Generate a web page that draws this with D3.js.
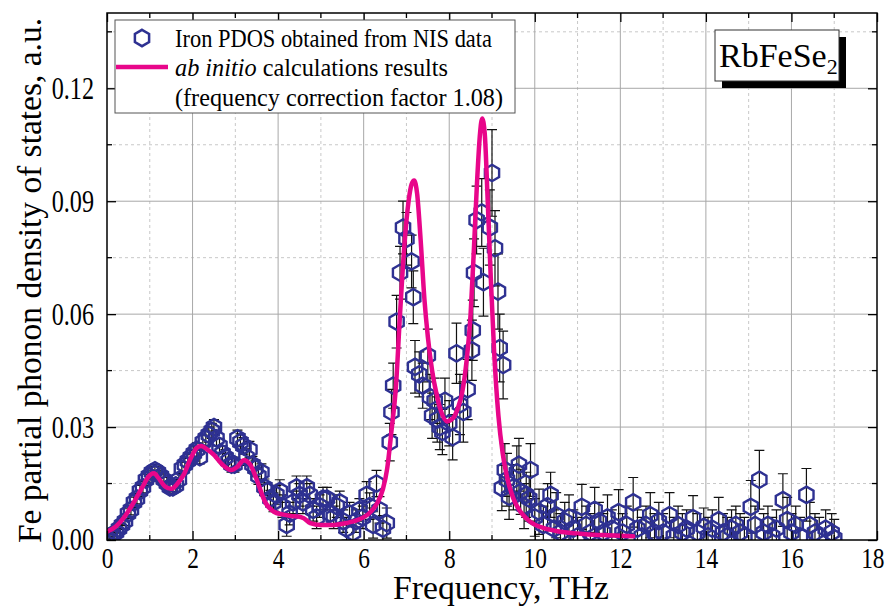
<!DOCTYPE html>
<html>
<head>
<meta charset="utf-8">
<script src="https://cdn.jsdelivr.net/npm/d3@7"></script>
<style>
  body { margin: 0; background: #fff; }
  svg text { font-family: "Liberation Serif", "DejaVu Serif", serif; fill: #000; }
</style>
</head>
<body>
<svg id="chart" width="887" height="608"></svg>
<script>
// NIS measured iron PDOS (frequency in THz, value, error)
const nisFreq = [0.00, 0.07, 0.14, 0.21, 0.28, 0.35, 0.42, 0.49, 0.56, 0.63, 0.70, 0.77, 0.84, 0.91, 0.98,
  1.05, 1.12, 1.19, 1.26, 1.33, 1.40, 1.47, 1.54, 1.61, 1.68, 1.75, 1.82, 1.89, 1.96, 2.03, 2.10, 2.17,
  2.24, 2.31, 2.38, 2.45, 2.50, 2.56, 2.63, 2.70, 2.77, 2.84, 2.91, 2.98, 3.05, 3.12, 3.19, 3.26, 3.33,
  3.40, 3.47, 3.54, 3.61, 3.68, 3.75, 3.82, 3.89, 3.96, 4.04, 4.10, 4.20, 4.27, 4.35, 4.43, 4.50, 4.58,
  4.67, 4.74, 4.82, 4.90, 4.97, 5.05, 5.14, 5.22, 5.30, 5.37, 5.44, 5.52, 5.60, 5.67, 5.75, 5.82, 5.90,
  5.98, 6.07, 6.14, 6.22, 6.30, 6.37, 6.45, 6.54, 6.61, 6.65, 6.69, 6.77, 6.85, 6.92, 7.00, 7.12, 7.16,
  7.20, 7.30, 7.38, 7.50, 7.55, 7.60, 7.66, 7.72, 7.78, 7.84, 7.90, 8.00, 8.08, 8.17, 8.25, 8.33, 8.43,
  8.53, 8.55, 8.58, 8.64, 8.76, 8.80, 8.95, 9.00, 9.07, 9.14, 9.18, 9.23, 9.26, 9.30, 9.35, 9.40, 9.50,
  9.58, 9.63, 9.67, 9.75, 9.80, 9.87, 9.90, 10.00, 10.10, 10.20, 10.30, 10.37, 10.45, 10.50, 10.60,
  10.70, 10.80, 10.90, 11.00, 11.10, 11.20, 11.30, 11.40, 11.50, 11.60, 11.70, 11.80, 11.96, 12.05,
  12.15, 12.30, 12.40, 12.50, 12.60, 12.70, 12.80, 12.90, 13.00, 13.15, 13.25, 13.35, 13.45, 13.55,
  13.70, 13.80, 13.95, 14.05, 14.15, 14.30, 14.40, 14.50, 14.60, 14.70, 14.80, 14.90, 15.05, 15.15,
  15.25, 15.35, 15.45, 15.55, 15.65, 15.80, 15.90, 16.00, 16.10, 16.20, 16.35, 16.43, 16.55, 16.65,
  16.80, 16.94, 17.00];
const nisPdos = [0.000, 0.001, 0.0015, 0.002, 0.003, 0.004, 0.005, 0.007, 0.008, 0.010, 0.011, 0.013, 0.014, 0.016, 0.017,
  0.018, 0.0185, 0.018, 0.017, 0.016, 0.015, 0.014, 0.014, 0.0145, 0.016, 0.019, 0.020, 0.021, 0.022, 0.023, 0.024, 0.022,
  0.026, 0.027, 0.028, 0.029, 0.030, 0.027, 0.025, 0.023, 0.022, 0.021, 0.020, 0.020, 0.027, 0.026, 0.025, 0.022, 0.024,
  0.020, 0.019, 0.017, 0.018, 0.014, 0.013, 0.011, 0.010, 0.012, 0.013, 0.009, 0.004, 0.007, 0.010, 0.014, 0.012, 0.010,
  0.014, 0.012, 0.008, 0.006, 0.009, 0.011, 0.011, 0.007, 0.006, 0.009, 0.010, 0.005, 0.003, 0.007, 0.002, 0.005, 0.008,
  0.006, 0.012, 0.009, 0.004, 0.015, 0.008, 0.003, 0.0045, 0.026, 0.034, 0.041, 0.058, 0.071, 0.083, 0.080, 0.074, 0.0645,
  0.046, 0.044, 0.041, 0.049, 0.038, 0.033, 0.037, 0.032, 0.030, 0.0287, 0.037, 0.031, 0.0273, 0.0496, 0.036, 0.034, 0.040,
  0.0504, 0.0557, 0.071, 0.085, 0.087, 0.0685, 0.083, 0.0975, 0.0775, 0.066, 0.051, 0.0138, 0.0465, 0.0186, 0.016, 0.0115, 0.014,
  0.018, 0.020, 0.0128, 0.009, 0.012, 0.011, 0.0186, 0.006, 0.0075, 0.004, 0.009, 0.012, 0.003, 0.0066, 0.002,
  0.005, 0.006, 0.003, 0.001, 0.0088, 0.004, 0.002, 0.008, 0.005, 0.002, 0.006, 0.003, 0.0074, 0.002,
  0.004, 0.010, 0.003, 0.001, 0.004, 0.0066, 0.002, 0.005, 0.002, 0.0066, 0.001, 0.004, 0.002, 0.003,
  0.0058, 0.002, 0.0035, 0.001, 0.003, 0.0053, 0.002, 0.001, 0.003, 0.004, 0.002, 0.001, 0.0088, 0.004,
  0.016, 0.002, 0.004, 0.001, 0.003, 0.0106, 0.0053, 0.002, 0.004, 0.001, 0.012, 0.004, 0.002, 0.001,
  0.003, 0.002, 0.0005];
const nisErr = [0.001, 0.001, 0.001, 0.001, 0.0012, 0.0012, 0.0012, 0.0013, 0.0013, 0.0014, 0.0014, 0.0015, 0.0015, 0.0015, 0.0016,
  0.0016, 0.0016, 0.0016, 0.0016, 0.0016, 0.0016, 0.0016, 0.0016, 0.0016, 0.0017, 0.0017, 0.0017, 0.0018, 0.0018, 0.0018, 0.0018, 0.0018,
  0.0019, 0.0019, 0.002, 0.002, 0.002, 0.002, 0.002, 0.002, 0.002, 0.002, 0.002, 0.002, 0.0022, 0.0022, 0.0022, 0.0022, 0.0022,
  0.0022, 0.0022, 0.0022, 0.0022, 0.0022, 0.0022, 0.0022, 0.0025, 0.0025, 0.003, 0.003, 0.003, 0.003, 0.003, 0.003, 0.003, 0.003,
  0.003, 0.003, 0.003, 0.003, 0.003, 0.003, 0.003, 0.003, 0.003, 0.003, 0.003, 0.003, 0.003, 0.003, 0.003, 0.003, 0.003,
  0.003, 0.0035, 0.0035, 0.0035, 0.0035, 0.0035, 0.0035, 0.004, 0.005, 0.006, 0.006, 0.007, 0.007, 0.007, 0.007, 0.007, 0.007,
  0.007, 0.006, 0.006, 0.007, 0.006, 0.006, 0.006, 0.006, 0.006, 0.006, 0.006, 0.006, 0.006, 0.008, 0.008, 0.008, 0.008,
  0.008, 0.008, 0.009, 0.009, 0.009, 0.009, 0.010, 0.0115, 0.010, 0.010, 0.009, 0.006, 0.009, 0.007, 0.007, 0.006, 0.006,
  0.007, 0.007, 0.006, 0.006, 0.006, 0.006, 0.007, 0.005, 0.006, 0.005, 0.006, 0.006, 0.005, 0.006, 0.005,
  0.005, 0.006, 0.005, 0.005, 0.006, 0.005, 0.005, 0.006, 0.005, 0.005, 0.006, 0.005, 0.006, 0.005,
  0.005, 0.0066, 0.005, 0.005, 0.005, 0.006, 0.005, 0.005, 0.005, 0.006, 0.005, 0.005, 0.005, 0.005,
  0.006, 0.005, 0.005, 0.005, 0.005, 0.006, 0.005, 0.005, 0.005, 0.005, 0.005, 0.005, 0.007, 0.005,
  0.0078, 0.005, 0.005, 0.005, 0.005, 0.007, 0.006, 0.005, 0.005, 0.005, 0.007, 0.006, 0.005, 0.005,
  0.005, 0.005, 0.005];

// ab initio calculation (frequency correction factor 1.08)
const calcFreq = [0, 0.2, 0.4, 0.6, 0.8, 1.0, 1.1, 1.2, 1.35, 1.5, 1.65, 1.8, 1.95, 2.1, 2.2, 2.35, 2.5, 2.7,
  2.9, 3.05, 3.2, 3.35, 3.5, 3.7, 3.9, 4.1, 4.3, 4.5, 4.6, 4.75, 5.0, 5.3, 5.6, 5.9, 6.1, 6.3, 6.45, 6.55,
  6.65, 6.75, 6.85, 6.95, 7.05, 7.12, 7.18, 7.25, 7.33, 7.42, 7.5, 7.6, 7.7, 7.8, 7.95, 8.1, 8.2, 8.3,
  8.4, 8.5, 8.58, 8.65, 8.72, 8.77, 8.83, 8.9, 8.97, 9.05, 9.15, 9.25, 9.35, 9.5, 9.7, 9.9, 10.2, 10.5,
  10.8, 11.2, 11.6, 12.0, 12.3];
const calcPdos = [0.0022, 0.0035, 0.0060, 0.0095, 0.0135, 0.0172, 0.0177, 0.0165, 0.0143, 0.0136, 0.0150, 0.0175,
  0.0215, 0.0245, 0.0250, 0.0240, 0.0226, 0.0200, 0.0186, 0.0195, 0.0212, 0.0200, 0.0160, 0.0100, 0.0075,
  0.0068, 0.0064, 0.0062, 0.0058, 0.0045, 0.0040, 0.0040, 0.0045, 0.0055, 0.0068, 0.0095, 0.0135, 0.0190,
  0.0290, 0.0400, 0.0600, 0.0780, 0.0900, 0.0945, 0.0955, 0.0920, 0.0800, 0.0640, 0.0540, 0.0450, 0.0390,
  0.0345, 0.0315, 0.0325, 0.0350, 0.0390, 0.0470, 0.0600, 0.0780, 0.0950, 0.1080, 0.1120, 0.1080, 0.0900,
  0.0700, 0.0500, 0.0330, 0.0230, 0.0168, 0.0110, 0.0070, 0.0048, 0.0032, 0.0024, 0.0019, 0.0015, 0.0013,
  0.0011, 0.0010];

const xTicks = [0, 2, 4, 6, 8, 10, 12, 14, 16, 18];
const xMinor = [1, 3, 5, 7, 9, 11, 13, 15, 17];
const yTicks = [0, 0.03, 0.06, 0.09, 0.12];
const yMinor = [0.015, 0.045, 0.075, 0.105, 0.135];

const legendLabels = ['Iron PDOS obtained from NIS data', 'calculations results', '(frequency correction factor 1.08)'];

const margin = {left: 107, right: 10, top: 13, bottom: 68};
const width = 887;
const height = 608;
const blue = '#2e3192';
const pink = '#e8068a';
const serif = '"Liberation Serif", "DejaVu Serif", serif';
const sx = 0.78; // tick labels in the figure are condensed

const x = d3.scaleLinear().domain([0, 18]).range([margin.left, width - margin.right]);
const y = d3.scaleLinear().domain([0, 0.14]).range([height - margin.bottom, margin.top]);

const svg = d3.select('#chart');

svg.append('defs').append('clipPath').attr('id', 'plot-clip')
  .append('rect')
  .attr('x', x(0)).attr('y', y(0.14))
  .attr('width', x(18) - x(0)).attr('height', y(0) - y(0.14));

// grid
const grid = svg.append('g');
grid.selectAll('.gx-minor').data(xMinor).enter().append('line')
  .attr('x1', d => x(d)).attr('x2', d => x(d)).attr('y1', y(0)).attr('y2', y(0.14))
  .attr('stroke', '#c8c8c8').attr('stroke-dasharray', '3,3');
grid.selectAll('.gy-minor').data(yMinor).enter().append('line')
  .attr('y1', d => y(d)).attr('y2', d => y(d)).attr('x1', x(0)).attr('x2', x(18))
  .attr('stroke', '#c8c8c8').attr('stroke-dasharray', '3,3');
grid.selectAll('.gx').data(xTicks.slice(1, -1)).enter().append('line')
  .attr('x1', d => x(d)).attr('x2', d => x(d)).attr('y1', y(0)).attr('y2', y(0.14))
  .attr('stroke', '#a8a8a8');
grid.selectAll('.gy').data(yTicks.slice(1)).enter().append('line')
  .attr('y1', d => y(d)).attr('y2', d => y(d)).attr('x1', x(0)).attr('x2', x(18))
  .attr('stroke', '#a8a8a8');

// hexagon symbol
const hexagon = {
  draw(context, size) {
    const r = Math.sqrt(size / (1.5 * Math.sqrt(3)));
    for (let i = 0; i < 6; i++) {
      const a = Math.PI / 3 * i - Math.PI / 2;
      if (i === 0) context.moveTo(r * Math.cos(a), r * Math.sin(a));
      else context.lineTo(r * Math.cos(a), r * Math.sin(a));
    }
    context.closePath();
  }
};
const hexPath = d3.symbol().type(hexagon).size(175);

const nis = nisFreq.map((f, i) => ({f: f, v: nisPdos[i], e: nisErr[i]}));

const plot = svg.append('g').attr('clip-path', 'url(#plot-clip)');

// error bars
const eb = plot.append('g').attr('stroke', '#111').attr('stroke-width', 1.2).attr('fill', 'none');
eb.selectAll('path').data(nis).enter().append('path')
  .attr('d', d => {
    const cx = x(d.f), lo = y(d.v - d.e), hi = y(d.v + d.e);
    return `M${cx},${lo}V${hi}M${cx - 5},${hi}H${cx + 5}M${cx - 5},${lo}H${cx + 5}`;
  });

// NIS points
plot.append('g').selectAll('path').data(nis).enter().append('path')
  .attr('d', hexPath)
  .attr('transform', d => `translate(${x(d.f)},${y(d.v)})`)
  .attr('fill', 'none').attr('stroke', blue).attr('stroke-width', 2.4);

// calculation curve
const line = d3.line().x(d => x(d[0])).y(d => y(d[1])).curve(d3.curveMonotoneX);
plot.append('path')
  .datum(calcFreq.map((f, i) => [f, calcPdos[i]]))
  .attr('d', line)
  .attr('fill', 'none').attr('stroke', pink).attr('stroke-width', 4.5)
  .attr('stroke-linejoin', 'round').attr('stroke-linecap', 'round');

// axes
function styleAxis(g) {
  g.attr('font-family', serif);
  g.select('.domain').remove();
  g.selectAll('.tick line').attr('stroke', '#000').attr('stroke-width', 1.3);
}
const xAxis = d3.axisBottom(x).tickValues(xTicks).tickSize(-9).tickPadding(7).tickFormat(d3.format('d'));
const gx = svg.append('g').attr('transform', `translate(0,${y(0)})`).call(xAxis);
styleAxis(gx);
gx.append('g').selectAll('line').data(xMinor).enter().append('line')
  .attr('x1', d => x(d)).attr('x2', d => x(d)).attr('y1', 0).attr('y2', -5).attr('stroke', '#000').attr('stroke-width', 1.3);
gx.selectAll('.tick text').attr('font-size', 30)
  .attr('transform', `scale(${sx},1)`);
// last label sits against the page edge, pull it in a little
gx.selectAll('.tick text').filter(d => d === 18).attr('dx', -6);

const gxTop = svg.append('g').attr('transform', `translate(0,${y(0.14)})`)
  .call(d3.axisTop(x).tickValues(xTicks).tickSize(-9).tickFormat(''));
styleAxis(gxTop);
gxTop.append('g').selectAll('line').data(xMinor).enter().append('line')
  .attr('x1', d => x(d)).attr('x2', d => x(d)).attr('y1', 0).attr('y2', 5).attr('stroke', '#000').attr('stroke-width', 1.3);

const yAxis = d3.axisLeft(y).tickValues(yTicks).tickSize(-9).tickPadding(13 / sx).tickFormat(d3.format('.2f'));
const gy = svg.append('g').attr('transform', `translate(${x(0)},0)`).call(yAxis);
styleAxis(gy);
gy.append('g').selectAll('line').data(yMinor).enter().append('line')
  .attr('y1', d => y(d)).attr('y2', d => y(d)).attr('x1', 0).attr('x2', 5).attr('stroke', '#000').attr('stroke-width', 1.3);
gy.selectAll('.tick text').attr('font-size', 31)
  .attr('transform', `scale(${sx},1)`);

const gyRight = svg.append('g').attr('transform', `translate(${x(18)},0)`)
  .call(d3.axisRight(y).tickValues(yTicks).tickSize(-9).tickFormat(''));
styleAxis(gyRight);
gyRight.append('g').selectAll('line').data(yMinor).enter().append('line')
  .attr('y1', d => y(d)).attr('y2', d => y(d)).attr('x1', 0).attr('x2', -5).attr('stroke', '#000').attr('stroke-width', 1.3);

// frame
svg.append('rect')
  .attr('x', x(0)).attr('y', y(0.14)).attr('width', x(18) - x(0)).attr('height', y(0) - y(0.14))
  .attr('fill', 'none').attr('stroke', '#000').attr('stroke-width', 1.5);

// axis titles
svg.append('text')
  .attr('x', 501).attr('y', 599)
  .attr('text-anchor', 'middle').attr('font-size', 34)
  .attr('textLength', 216).attr('lengthAdjust', 'spacingAndGlyphs')
  .text('Frequency, THz');
svg.append('text')
  .attr('transform', `translate(41,${(y(0) + y(0.14)) / 2 + 4}) rotate(-90)`)
  .attr('text-anchor', 'middle').attr('font-size', 34)
  .attr('textLength', 525).attr('lengthAdjust', 'spacingAndGlyphs')
  .text('Fe partial phonon density of states, a.u.');

// legend
const legend = svg.append('g');
legend.append('rect').attr('x', 115).attr('y', 20).attr('width', 400).attr('height', 93)
  .attr('fill', '#fff').attr('stroke', '#555').attr('stroke-width', 1);
legend.append('path').attr('d', hexPath).attr('transform', 'translate(142,38)')
  .attr('fill', 'none').attr('stroke', blue).attr('stroke-width', 2.5);
legend.append('line').attr('x1', 116).attr('x2', 168).attr('y1', 67).attr('y2', 67)
  .attr('stroke', pink).attr('stroke-width', 4.5);
const legendText = legend.append('g').attr('font-size', 25);
legendText.append('text').attr('x', 175).attr('y', 47)
  .attr('textLength', 317).attr('lengthAdjust', 'spacingAndGlyphs')
  .text(legendLabels[0]);
const t2 = legendText.append('text').attr('x', 175).attr('y', 76)
  .attr('textLength', 273).attr('lengthAdjust', 'spacingAndGlyphs');
t2.append('tspan').attr('font-style', 'italic').text('ab initio');
t2.append('tspan').text(' ' + legendLabels[1]);
legendText.append('text').attr('x', 175).attr('y', 106)
  .attr('textLength', 328).attr('lengthAdjust', 'spacingAndGlyphs')
  .text(legendLabels[2]);

// compound label
const label = svg.append('g');
label.append('rect').attr('x', 722).attr('y', 37).attr('width', 124).attr('height', 51).attr('fill', '#000');
label.append('rect').attr('x', 715).attr('y', 30).attr('width', 124).attr('height', 51)
  .attr('fill', '#fff').attr('stroke', '#333').attr('stroke-width', 1);
const lt = label.append('text').attr('x', 719).attr('y', 67).attr('font-size', 34);
lt.append('tspan').text('RbFeSe');
lt.append('tspan').attr('font-size', 22).attr('dy', 7).text('2');
</script>
</body>
</html>
